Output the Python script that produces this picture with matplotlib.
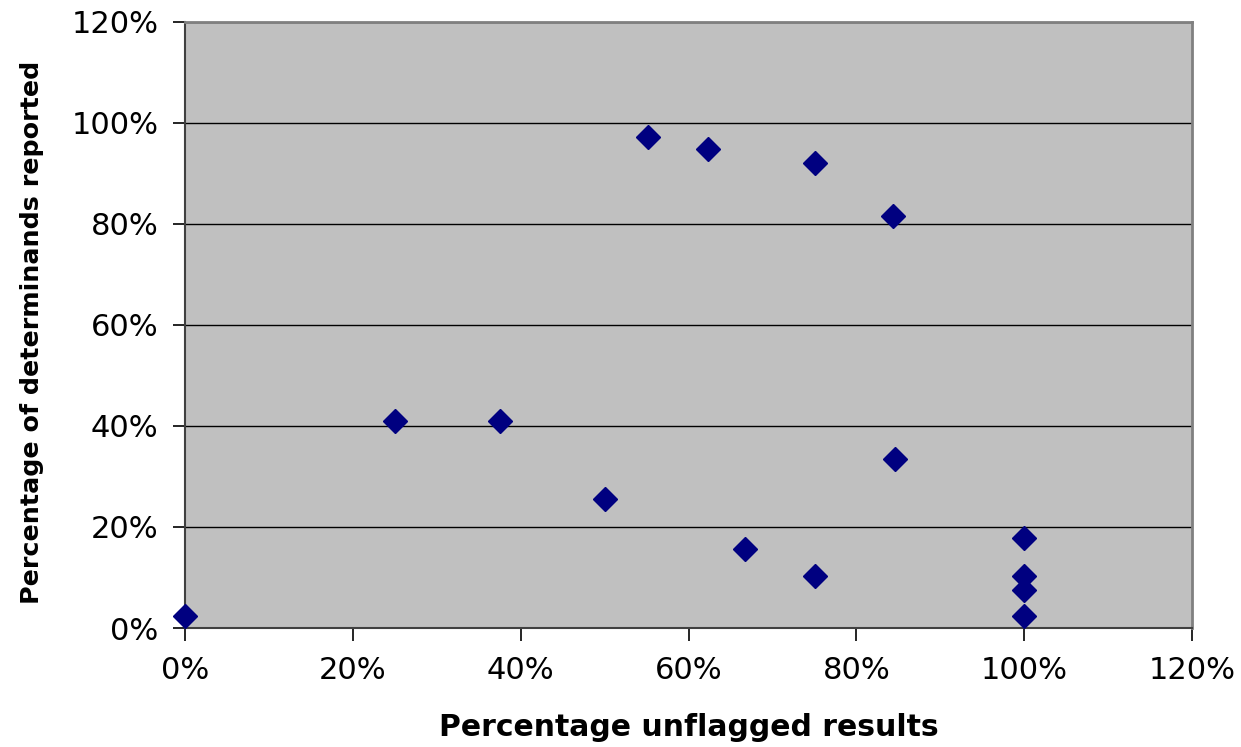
import matplotlib
matplotlib.use("Agg")
import matplotlib.pyplot as plt
from matplotlib.ticker import FuncFormatter, MultipleLocator

# Data (percent values)
unflagged = [0.0, 25.0, 37.5, 50.0, 55.2, 62.3, 66.7, 75.1, 75.1, 84.4, 84.6, 100.0, 100.0, 100.0, 100.0]
reported = [2.4, 40.9, 40.9, 25.5, 97.2, 94.8, 15.6, 92.0, 10.3, 81.6, 33.4, 17.8, 10.3, 7.5, 2.4]

xlabel = "Percentage unflagged results"
ylabel = "Percentage of determinands reported"

plt.rcParams['font.family'] = ['DejaVu Sans']

fig = plt.figure(figsize=(12.41, 7.47), dpi=100)
ax = fig.add_axes([0.1491, 0.1593, 0.9605 - 0.1491, 0.971 - 0.1593])
ax.set_facecolor('#c0c0c0')

ax.set_xlim(0, 120)
ax.set_ylim(0, 120)
ax.xaxis.set_major_locator(MultipleLocator(20))
ax.yaxis.set_major_locator(MultipleLocator(20))
fmt = FuncFormatter(lambda v, p: f"{int(round(v))}%")
ax.xaxis.set_major_formatter(fmt)
ax.yaxis.set_major_formatter(fmt)

ax.grid(axis='y', color='black', linewidth=1.0)
ax.set_axisbelow(True)

ax.plot(unflagged, reported, linestyle='none', marker='D', markersize=12,
        color='#000080', markeredgecolor='#000080', clip_on=False, zorder=5)

for s in ['left', 'bottom']:
    ax.spines[s].set_color('#404040')
    ax.spines[s].set_linewidth(1.5)
for s in ['top', 'right']:
    ax.spines[s].set_color('#808080')
    ax.spines[s].set_linewidth(2)

ax.tick_params(axis='both', direction='out', length=9, width=1.2, color='black',
               labelsize=22)
ax.tick_params(axis='y', pad=10)
ax.tick_params(axis='x', pad=11)

ax.set_xlabel(xlabel, fontsize=21.5, fontweight='bold')
ax.set_ylabel(ylabel, fontsize=18.3, fontweight='bold')
ax.xaxis.set_label_coords(0.5, -0.14)
ax.yaxis.set_label_coords(-0.140, 0.488)

fig.savefig("out.png", dpi=100)
